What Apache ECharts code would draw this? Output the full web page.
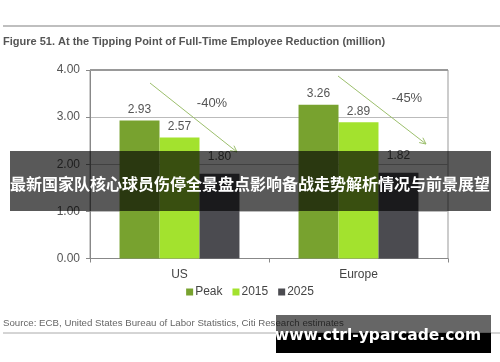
<!DOCTYPE html>
<html>
<head>
<meta charset="utf-8">
<script src="https://cdn.jsdelivr.net/npm/echarts@6/dist/echarts.min.js"></script>
<style>html,body{margin:0;padding:0;background:#fff;}#c{width:500px;height:362px;}</style>
</head>
<body>
<div id="c"></div>
<script>
const categories = ['US', 'Europe'];
const seriesNames = ['Peak', '2015', '2025'];
const peakValues = [2.93, 3.26];
const y2015Values = [2.57, 2.89];
const y2025Values = [1.80, 1.82];
const yTicks = [0, 1, 2, 3, 4];
const changeLabels = ['-40%', '-45%'];

const colors = ['#78a22f', '#a3e22e', '#4b4b50'];
const FONT = '"Liberation Sans", Arial, sans-serif';
const chart = echarts.init(document.getElementById('c'), null, {renderer: 'canvas'});

function barSeries(name, data, color, dist) {
  return {
    name: name, type: 'bar', data: data, barGap: '0%', barCategoryGap: '33%',
    itemStyle: {color: color},
    label: {show: true, position: 'top', distance: dist, color: '#555', fontSize: 12, fontFamily: FONT,
      formatter: p => p.value.toFixed(2)}
  };
}

const arrowColor = '#9cbf6c';
function arrow(x1, y1, x2, y2) {
  const ang = Math.atan2(y2 - y1, x2 - x1);
  const L = 7, a = 0.45;
  const p1 = [x2 - L * Math.cos(ang - a), y2 - L * Math.sin(ang - a)];
  const p2 = [x2 - L * Math.cos(ang + a), y2 - L * Math.sin(ang + a)];
  return [
    {type: 'line', z: 50, shape: {x1: x1, y1: y1, x2: x2, y2: y2}, style: {stroke: arrowColor, lineWidth: 1}},
    {type: 'polyline', z: 50, shape: {points: [p1, [x2, y2], p2]}, style: {stroke: arrowColor, lineWidth: 1, fill: null}}
  ];
}

const option = {
  animation: false,
  backgroundColor: '#fff',
  textStyle: {fontFamily: FONT},
  grid: {left: 90, right: 52, top: 70, bottom: 103.5, show: true, borderColor: '#999', borderWidth: 1},
  legend: {
    data: seriesNames, bottom: 59, left: 'center', icon: 'rect', itemWidth: 7, itemHeight: 7, itemGap: 10,
    textStyle: {color: '#444', fontSize: 12, fontFamily: FONT, padding: [0, 0, 0, -3]}
  },
  xAxis: {
    type: 'category', data: categories,
    axisLine: {lineStyle: {color: '#888'}},
    axisTick: {show: true, length: 4, lineStyle: {color: '#888'}},
    axisLabel: {color: '#444', fontSize: 12, fontFamily: FONT, margin: 10}
  },
  yAxis: {
    type: 'value', min: yTicks[0], max: yTicks[yTicks.length - 1], interval: 1,
    axisLine: {show: true, lineStyle: {color: '#888'}},
    axisTick: {show: true, length: 4, lineStyle: {color: '#888'}},
    axisLabel: {color: '#555', fontSize: 12, fontFamily: FONT, margin: 10, formatter: v => v.toFixed(2)},
    splitLine: {lineStyle: {color: '#bbb'}}
  },
  series: [
    barSeries(seriesNames[0], peakValues, colors[0], 5),
    barSeries(seriesNames[1], y2015Values, colors[1], 5),
    barSeries(seriesNames[2], y2025Values, colors[2], 11)
  ],
  graphic: [
    {type: 'line', z: 40, shape: {x1: 3, y1: 26, x2: 500, y2: 26}, style: {stroke: '#aaa', lineWidth: 1.5}},
    {type: 'text', z: 40, left: 3, top: 36, style: {text: 'Figure 51. At the Tipping Point of Full-Time Employee Reduction (million)', fill: '#555', font: 'bold 11px ' + FONT}},
    {type: 'line', z: 40, shape: {x1: 90, y1: 70, x2: 448, y2: 70}, style: {stroke: '#999', lineWidth: 2}},
    ...arrow(150, 83, 237, 152),
    ...arrow(338, 76, 426, 144),
    {type: 'text', z: 50, x: 212, y: 103, style: {text: changeLabels[0], fill: '#555', font: '13px ' + FONT, align: 'center', verticalAlign: 'middle'}},
    {type: 'text', z: 50, x: 407, y: 98, style: {text: changeLabels[1], fill: '#555', font: '13px ' + FONT, align: 'center', verticalAlign: 'middle'}},
    {type: 'text', z: 40, left: 3, top: 318, style: {text: 'Source: ECB, United States Bureau of Labor Statistics, Citi Research estimates', fill: '#666', font: '9.7px ' + FONT}},
    {type: 'line', z: 40, shape: {x1: 3, y1: 333, x2: 500, y2: 333}, style: {stroke: '#aaa', lineWidth: 1}},
    {type: 'rect', z: 100, shape: {x: 10, y: 151, width: 481, height: 60}, style: {fill: 'rgba(0,0,0,0.65)'}},
    {type: 'text', z: 101, x: 250, y: 184, style: {text: '最新国家队核心球员伤停全景盘点影响备战走势解析情况与前景展望', fill: '#fff', font: 'bold 16px "Noto Sans CJK SC", sans-serif', align: 'center', verticalAlign: 'middle'}},
    {type: 'rect', z: 100, shape: {x: 276, y: 315, width: 215, height: 18}, style: {fill: 'rgba(0,0,0,0.6)'}},
    {type: 'rect', z: 100, shape: {x: 276, y: 333, width: 215, height: 20}, style: {fill: '#000'}},
    {type: 'text', z: 101, x: 378, y: 336, style: {text: 'www.ctrl-yparcade.com', fill: '#fff', font: 'bold 15.5px "DejaVu Sans", sans-serif', align: 'center', verticalAlign: 'middle'}}
  ]
};
chart.setOption(option);
</script>
</body>
</html>
